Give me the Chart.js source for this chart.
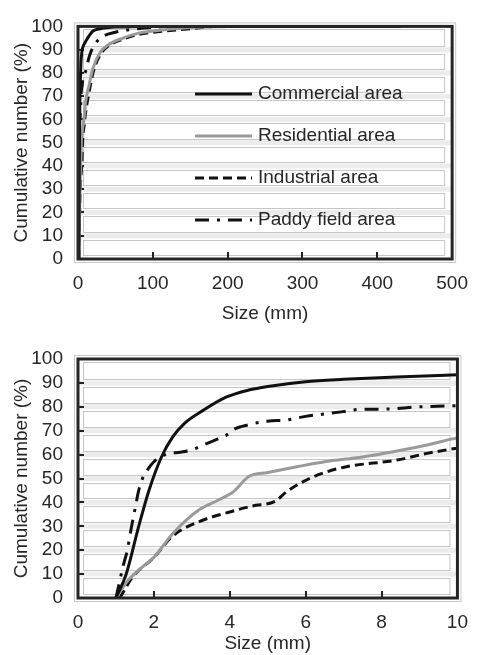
<!DOCTYPE html>
<html>
<head>
<meta charset="utf-8">
<script src="https://cdn.jsdelivr.net/npm/chart.js@4.4.1/dist/chart.umd.min.js"></script>
<style>
  html, body { margin: 0; padding: 0; background: #fff; }
  #wrap { position: relative; width: 481px; height: 655px; }
  #top { position: absolute; left: 0; top: 0; }
  #bottom { position: absolute; left: 0; top: 330px; }
</style>
</head>
<body>
<div id="wrap">
  <canvas id="top" width="481" height="330"></canvas>
  <canvas id="bottom" width="481" height="325"></canvas>
</div>
<script>
// tick labels
const pctTicks = [0, 10, 20, 30, 40, 50, 60, 70, 80, 90, 100];
const sizeTicksTop = [0, 100, 200, 300, 400, 500];
const sizeTicksBottom = [0, 2, 4, 6, 8, 10];

const seriesNames = ['Commercial area', 'Residential area', 'Industrial area', 'Paddy field area'];

// cumulative curves, size (mm) vs cumulative number (%)
const commercialSize = [1.0, 1.27, 1.6, 1.87, 2.2, 2.5, 2.8, 3.3, 3.9, 4.5, 5.0, 6.0, 7.0, 8.4, 10, 15, 20, 30, 50, 100, 432];
const commercialPct  = [0, 10, 30, 45, 59, 67.5, 73, 78.5, 84, 87, 88.5, 90.5, 91.5, 92.5, 93.4, 96, 98, 99, 99.7, 100, 100];

const residentialSize = [1.0, 1.3, 1.7, 2.0, 2.5, 3.2, 3.7, 4.1, 4.5, 5.0, 5.8, 6.5, 7.5, 8.4, 9.2, 10, 15, 20, 30, 40, 60, 80, 100, 150, 200];
const residentialPct  = [0, 7, 13, 17, 27, 37, 41, 44.5, 50.8, 52.5, 55, 57, 59, 61.5, 64, 67, 75, 82, 89, 92, 95, 97, 98, 99.5, 100];

const industrialSize = [1.1, 1.45, 2.0, 2.5, 3.2, 4.0, 4.6, 5.2, 5.5, 6.1, 6.6, 7.1, 8.4, 9.2, 10, 15, 20, 30, 40, 60, 80, 100, 150, 180];
const industrialPct  = [0, 9, 17, 26, 32, 36, 38.5, 40.5, 44.5, 50, 53, 55, 57.7, 60.5, 62.7, 72, 80, 88, 91.5, 94.5, 96.5, 97.5, 99, 100];

const paddySize = [1.0, 1.2, 1.3, 1.4, 1.5, 1.6, 1.7, 1.85, 2.0, 2.3, 2.7, 3.0, 3.3, 3.6, 3.9, 4.1, 4.5, 5.0, 5.5, 6.0, 6.5, 7.0, 7.5, 8.0, 9.0, 10, 15, 20, 30, 50, 80, 120];
const paddyPct  = [0, 14, 20, 29, 37, 45, 50, 54, 57, 60, 61, 62, 64, 66, 68, 70.5, 72.5, 74, 74.5, 76, 77, 78, 79, 79, 80, 80.5, 87, 91, 95, 97.5, 99, 100];

const FONT = '"Liberation Sans", Arial, sans-serif';
const FSIZE = 19;
const TEXT = '#262626';

function pts(xs, ys) {
  return xs.map((v, i) => ({ x: v, y: ys[i] }));
}

function makeDatasets() {
  const base = { pointRadius: 0, borderWidth: 3, fill: false, cubicInterpolationMode: 'monotone' };
  return [
    Object.assign({}, base, { label: seriesNames[0], data: pts(commercialSize, commercialPct), borderColor: '#111' }),
    Object.assign({}, base, { label: seriesNames[1], data: pts(residentialSize, residentialPct), borderColor: '#9a9a9a' }),
    Object.assign({}, base, { label: seriesNames[2], data: pts(industrialSize, industrialPct), borderColor: '#111', borderDash: [9, 5] }),
    Object.assign({}, base, { label: seriesNames[3], data: pts(paddySize, paddyPct), borderColor: '#111', borderDash: [14, 8, 3, 8] }),
  ];
}

// grid bands, inward ticks and the plot frame
const framePlugin = {
  id: 'frame',
  beforeDatasetsDraw(chart) {
    const { ctx, chartArea: a, scales: { x, y } } = chart;
    ctx.save();
    // faint grid line between bands
    ctx.strokeStyle = '#ececec';
    ctx.lineWidth = 5;
    pctTicks.slice(1, -1).forEach(v => {
      const py = y.getPixelForValue(v);
      ctx.beginPath();
      ctx.moveTo(a.left, py);
      ctx.lineTo(a.right, py);
      ctx.stroke();
    });
    // band outlines
    ctx.strokeStyle = '#c6c6c6';
    ctx.lineWidth = 1;
    for (let i = 0; i < pctTicks.length - 1; i++) {
      const yb = Math.round(y.getPixelForValue(pctTicks[i])) - 4;
      const yt = Math.round(y.getPixelForValue(pctTicks[i + 1])) + (i === pctTicks.length - 2 ? 3 : 4);
      ctx.strokeRect(Math.round(a.left) + 5.5, yt + 0.5, a.width - 13, yb - yt);
    }
    // inward ticks
    ctx.strokeStyle = '#222';
    ctx.lineWidth = 2;
    pctTicks.slice(1, -1).forEach(v => {
      const py = Math.round(y.getPixelForValue(v));
      ctx.beginPath();
      ctx.moveTo(a.left, py);
      ctx.lineTo(a.left + 6, py);
      ctx.stroke();
    });
    x.ticks.slice(1, -1).forEach(t => {
      const px = Math.round(x.getPixelForValue(t.value));
      ctx.beginPath();
      ctx.moveTo(px, a.bottom);
      ctx.lineTo(px, a.bottom - 7);
      ctx.stroke();
    });
    ctx.restore();
  },
  afterDatasetsDraw(chart) {
    const { ctx, chartArea: a } = chart;
    ctx.save();
    ctx.strokeStyle = '#c8c8c8';
    ctx.lineWidth = 1;
    ctx.strokeRect(a.left - 3.5, a.top - 3.5, a.width + 7, a.height + 7);
    ctx.strokeStyle = '#262626';
    ctx.lineWidth = 3;
    ctx.strokeRect(a.left, a.top, a.width, a.height);
    ctx.restore();
  }
};

// legend drawn inside the upper plot
const insideLegend = {
  id: 'insideLegend',
  afterDatasetsDraw(chart, args, opts) {
    if (!opts.show) return;
    const { ctx } = chart;
    ctx.save();
    ctx.font = FSIZE + 'px ' + FONT;
    ctx.textBaseline = 'middle';
    chart.data.datasets.forEach((ds, i) => {
      const yy = opts.y0 + i * opts.gap;
      ctx.strokeStyle = ds.borderColor;
      ctx.lineWidth = 3;
      ctx.setLineDash(ds.borderDash || []);
      ctx.beginPath();
      ctx.moveTo(opts.x0, yy);
      ctx.lineTo(opts.x0 + 57, yy);
      ctx.stroke();
      ctx.setLineDash([]);
      ctx.fillStyle = TEXT;
      ctx.fillText(ds.label, opts.x0 + 63, yy);
    });
    ctx.restore();
  }
};

function makeChart(id, xTicks, cfg) {
  const H = document.getElementById(id).height;
  return new Chart(document.getElementById(id), {
    type: 'line',
    data: { datasets: makeDatasets() },
    options: {
      responsive: false,
      animation: false,
      devicePixelRatio: 1,
      layout: { padding: { left: 0, right: 19, top: cfg.top, bottom: 0 } },
      plugins: {
        legend: { display: false },
        tooltip: { enabled: false },
        insideLegend: cfg.legend
      },
      scales: {
        x: {
          type: 'linear',
          min: xTicks[0],
          max: xTicks[xTicks.length - 1],
          afterBuildTicks: s => { s.ticks = xTicks.map(v => ({ value: v })); },
          afterFit: s => { s.height = H - cfg.bottom; },
          grid: { display: false, drawTicks: false },
          border: { display: false },
          ticks: { autoSkip: false, color: TEXT, font: { family: FONT, size: FSIZE }, padding: cfg.xPad, maxRotation: 0 },
          title: { display: true, text: 'Size (mm)', color: TEXT, font: { family: FONT, size: FSIZE }, padding: { top: 0, bottom: cfg.titlePad } }
        },
        y: {
          type: 'linear',
          min: 0,
          max: 100,
          afterBuildTicks: s => { s.ticks = pctTicks.map(v => ({ value: v })); },
          afterFit: s => { s.width = 78; },
          grid: { display: false, drawTicks: false },
          border: { display: false },
          ticks: { autoSkip: false, color: TEXT, font: { family: FONT, size: FSIZE }, padding: 15 },
          title: { display: true, text: 'Cumulative number (%)', color: TEXT, font: { family: FONT, size: FSIZE }, padding: { top: 10, bottom: 0 } }
        }
      }
    },
    plugins: [framePlugin, insideLegend]
  });
}

makeChart('top', sizeTicksTop, { top: 21, bottom: 259, xPad: 13, titlePad: 5, legend: { show: true, x0: 195, y0: 94, gap: 42 } });
makeChart('bottom', sizeTicksBottom, { top: 29, bottom: 268, xPad: 13, titlePad: 0, legend: { show: false } });
</script>
</body>
</html>
